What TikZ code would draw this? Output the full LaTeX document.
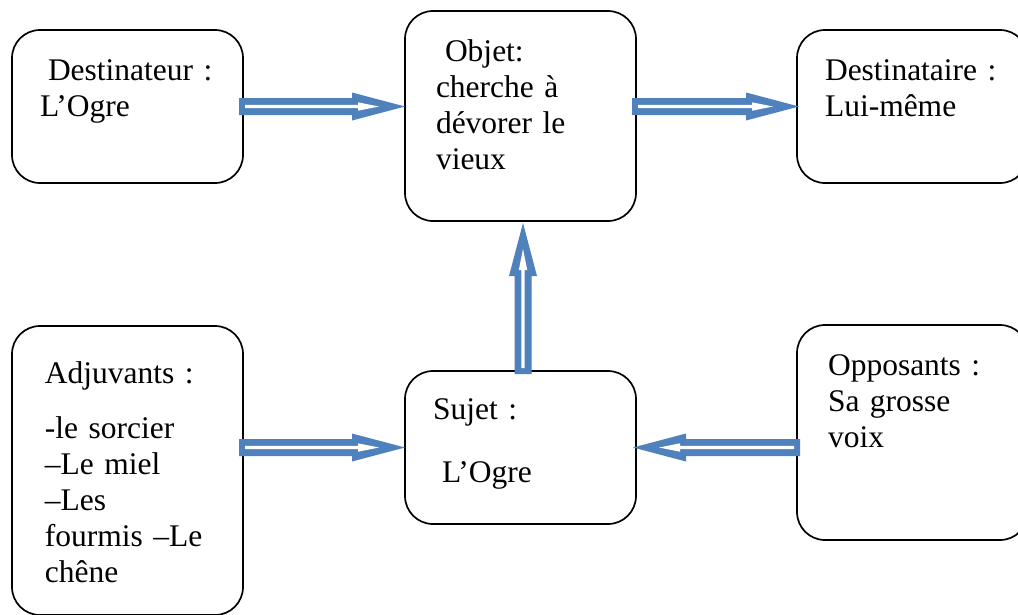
\documentclass[tikz,border=0pt]{standalone}
\usepackage{fontspec}
\setmainfont{Liberation Serif}
\usetikzlibrary{calc}
\definecolor{arrowblue}{RGB}{79,129,189}

% Hollow block arrow from #1 (tail) to #2 (tip): blue outline, white inside
\newcommand\hollowarrow[2]{%
  \coordinate (ha-a) at #1;
  \coordinate (ha-b) at #2;
  \fill[arrowblue]
    ($(ha-a)!8.5pt!90:(ha-b)$) --
    ($(ha-b)!53pt!(ha-a)!8.5pt!-90:(ha-a)$) --
    ($(ha-b)!53pt!(ha-a)!14pt!-90:(ha-a)$) --
    (ha-b) --
    ($(ha-b)!53pt!(ha-a)!14pt!90:(ha-a)$) --
    ($(ha-b)!53pt!(ha-a)!8.5pt!90:(ha-a)$) --
    ($(ha-a)!8.5pt!-90:(ha-b)$) -- cycle;
  \fill[white]
    ($(ha-a)!6pt!(ha-b)!1.6pt!90:(ha-b)$) --
    ($(ha-b)!47pt!(ha-a)!1.6pt!-90:(ha-a)$) --
    ($(ha-b)!47pt!(ha-a)!4.2pt!-90:(ha-a)$) --
    ($(ha-b)!26pt!(ha-a)$) --
    ($(ha-b)!47pt!(ha-a)!4.2pt!90:(ha-a)$) --
    ($(ha-b)!47pt!(ha-a)!1.6pt!90:(ha-a)$) --
    ($(ha-a)!6pt!(ha-b)!1.6pt!-90:(ha-b)$) -- cycle;
}

\tikzset{
  actant/.style={draw=black, line width=1.7pt, rounded corners=28pt,
    minimum width=231pt, outer sep=0pt, inner sep=0pt},
  boxtext/.style={anchor=base west, inner sep=0pt, outer sep=0pt,
    text width=200pt, align=left,
    font=\fontsize{31.5}{36}\selectfont},
}

\begin{document}
\begin{tikzpicture}[x=1pt, y=-1pt]
  \useasboundingbox (0,0) rectangle (1018,614);
  \clip (0,0) rectangle (1018,614);
  \fill[white] (0,0) rectangle (1018,614);

  % actant boxes
  \node[actant, minimum height=153pt] (dest)   at (127.5,106.5) {};
  \node[actant, minimum height=210pt] (obj)    at (520.5,116)   {};
  \node[actant, minimum height=153pt] (dtaire) at (912.5,106.5) {};
  \node[actant, minimum height=289pt] (adj)    at (127.5,470.5) {};
  \node[actant, minimum height=153pt] (sujet)  at (520.5,447.5) {};
  \node[actant, minimum height=215pt] (opp)    at (912.5,432.5) {};

  % box texts
  \node[boxtext] (dest-txt)   at (40,80)   {\hspace*{8pt}Destinateur :\\L’Ogre};
  \node[boxtext] (obj-txt)    at (436,61)  {\hspace*{9pt}Objet:\\cherche à\\dévorer le\\vieux};
  \node[boxtext] (dtaire-txt) at (825,80)  {Destinataire :\\Lui-même};
  \node[boxtext] (adj-txt)    at (45,383)  {Adjuvants :\\[19pt]-le sorcier\\–Le miel\\–Les\\fourmis –Le\\chêne};
  \node[boxtext] (sujet-txt)  at (433,419) {Sujet :\\[27pt]\hspace*{9pt}L’Ogre};
  \node[boxtext] (opp-txt)    at (828,375) {Opposants :\\Sa grosse\\voix};

  % connectors
  \hollowarrow{($(dest.east)+(-4pt,0)$)}{(obj.west |- dest.east)}
  \hollowarrow{($(obj.east |- dtaire.west)+(-4pt,0)$)}{($(dtaire.west)+(2pt,0)$)}
  \hollowarrow{($(sujet.north)+(2.5pt,-3pt)$)}{($(obj.south)+(2.5pt,-2pt)$)}
  \hollowarrow{($(adj.east |- sujet.west)+(-4pt,0)$)}{(sujet.west)}
  \hollowarrow{($(opp.west |- sujet.east)+(3pt,0)$)}{($(sujet.east)+(-3pt,0)$)}
\end{tikzpicture}
\end{document}
